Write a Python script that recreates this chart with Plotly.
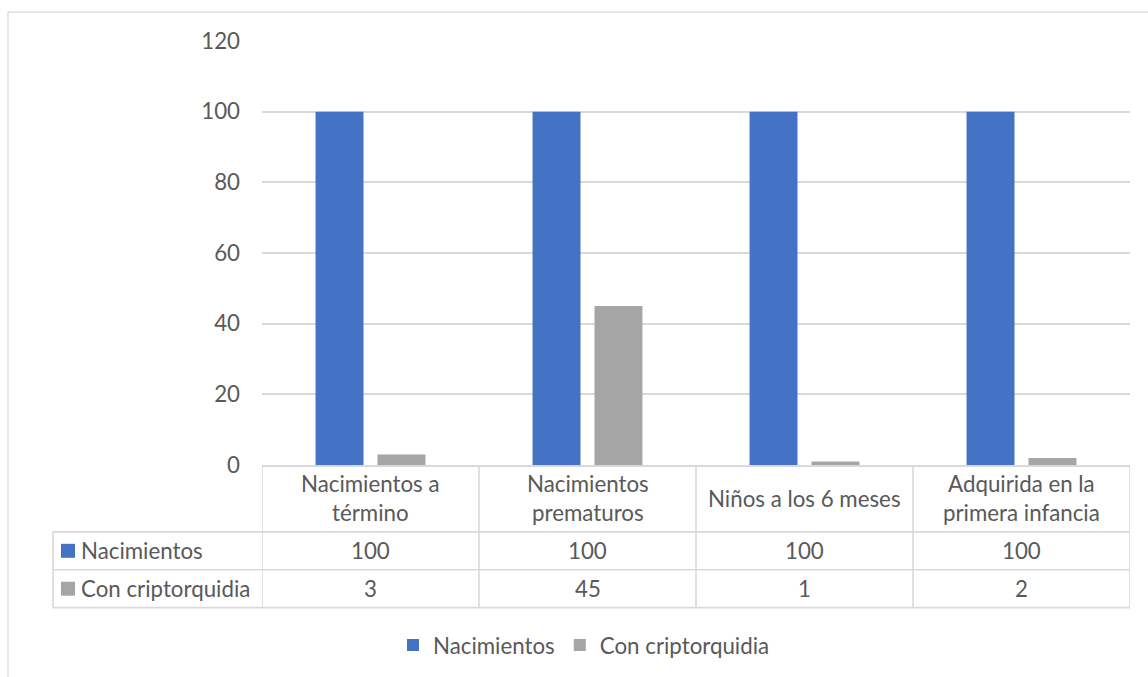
import plotly.graph_objects as go

# ---------------- data ----------------
categories = ["Nacimientos a término", "Nacimientos prematuros",
              "Niños a los 6 meses", "Adquirida en la primera infancia"]
category_labels = ["Nacimientos a<br>término", "Nacimientos<br>prematuros",
                   "Niños a los 6 meses", "Adquirida en la<br>primera infancia"]
series_names = ["Nacimientos", "Con criptorquidia"]
nacimientos = [100, 100, 100, 100]
con_criptorquidia = [3, 45, 1, 2]
y_ticks = [0, 20, 40, 60, 80, 100, 120]

# ---------------- style / layout ----------------
W, H = 1148, 677
PL, PR, PT, PB = 262, 18, 41, 211
plot_w = W - PL - PR
plot_h = H - PT - PB
FONT = "Lato"
TXT = "#595959"
LINE = "#d9d9d9"
colors = ["#4472C4", "#A5A5A5"]
FS = 22.3


def py(y_px):  # pixel -> paper y
    return (H - PB - y_px) / plot_h


def pxp(x_px):  # pixel -> paper x
    return (x_px - PL) / plot_w


ncat = len(categories)

fig = go.Figure()
for name, vals, col in zip(series_names, [nacimientos, con_criptorquidia], colors):
    fig.add_trace(go.Bar(name=name, x=categories, y=vals, marker_color=col,
                         marker_line_width=0))

# table geometry (pixels)
y_top = H - PB          # 466
y_h1 = 533
y_h2 = 571
y_h3 = 609
x_left = 53

shapes = []
lw = 1.6
for yy in [y_h1, y_h2, y_h3]:
    shapes.append(dict(type="line", xref="paper", yref="paper",
                       x0=pxp(x_left), x1=1, y0=py(yy), y1=py(yy),
                       line=dict(color=LINE, width=lw)))
for i in range(ncat + 1):
    shapes.append(dict(type="line", xref="x", yref="paper",
                       x0=i - 0.5, x1=i - 0.5, y0=py(y_top), y1=py(y_h3),
                       line=dict(color=LINE, width=lw)))
shapes.append(dict(type="line", xref="paper", yref="paper",
                   x0=pxp(x_left), x1=pxp(x_left), y0=py(y_h1), y1=py(y_h3),
                   line=dict(color=LINE, width=lw)))
row_centers = [(y_h1 + y_h2) / 2, (y_h2 + y_h3) / 2]
for rc, col in zip(row_centers, colors):
    shapes.append(dict(type="rect", xref="paper", yref="paper",
                       x0=pxp(61), x1=pxp(75), y0=py(rc - 7), y1=py(rc + 7),
                       fillcolor=col, line=dict(width=0)))
shapes.append(dict(type="rect", xref="paper", yref="paper",
                   x0=pxp(8), x1=pxp(1152), y0=py(12), y1=py(682),
                   line=dict(color=LINE, width=1.3), fillcolor="rgba(0,0,0,0)"))

annotations = []
for cat, lab in zip(categories, category_labels):
    annotations.append(dict(xref="x", yref="paper", x=cat, y=py((y_top + y_h1) / 2),
                            text=lab, showarrow=False, xanchor="center", yanchor="middle",
                            font=dict(family=FONT, size=FS, color=TXT)))
for rc, name, vals in zip(row_centers, series_names, [nacimientos, con_criptorquidia]):
    annotations.append(dict(xref="paper", yref="paper", x=pxp(79), y=py(rc),
                            text=name, showarrow=False, xanchor="left", yanchor="middle",
                            font=dict(family=FONT, size=FS, color=TXT)))
    for cat, v in zip(categories, vals):
        annotations.append(dict(xref="x", yref="paper", x=cat, y=py(rc),
                                text=str(v), showarrow=False, xanchor="center",
                                yanchor="middle",
                                font=dict(family=FONT, size=FS, color=TXT)))

fig.update_layout(
    width=W, height=H,
    margin=dict(l=PL, r=PR, t=PT, b=PB),
    paper_bgcolor="white", plot_bgcolor="white",
    barmode="group", bargap=0.429, bargroupgap=0.226,
    font=dict(family=FONT, size=FS, color=TXT),
    showlegend=True,
    legend=dict(orientation="h", x=pxp(393), y=py(645), xanchor="left",
                yanchor="middle", font=dict(family=FONT, size=FS, color=TXT),
                itemclick=False, bgcolor="rgba(0,0,0,0)"),
    shapes=shapes,
    annotations=annotations,
)
fig.update_xaxes(showticklabels=False, showline=True, linecolor=LINE, linewidth=lw,
                 showgrid=False, ticks="", range=[-0.5, ncat - 0.5])
fig.update_yaxes(range=[0, 120], tickvals=y_ticks, showgrid=True, gridcolor=LINE,
                 gridwidth=1.5, zeroline=False, showline=False, ticks="",
                 ticklabelstandoff=21,
                 tickfont=dict(family=FONT, size=FS, color=TXT))

fig.write_html("out.html")
